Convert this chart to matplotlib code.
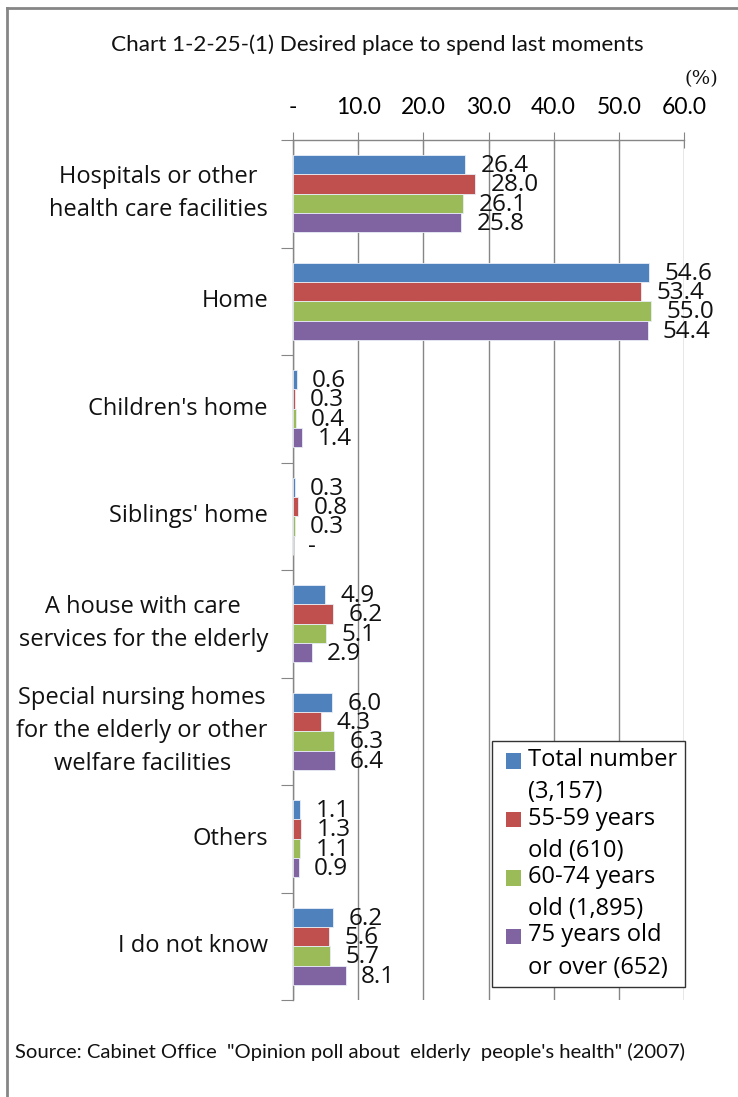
import numpy as np
import matplotlib
matplotlib.use('Agg')
import matplotlib.pyplot as plt
from matplotlib.patches import Rectangle
from matplotlib.lines import Line2D
from matplotlib.legend_handler import HandlerPatch

# ---- data (percent) ----
categories = ["Hospitals or other\nhealth care facilities", "Home", "Children's home",
              "Siblings' home", "A house with care\nservices for the elderly",
              "Special nursing homes\nfor the elderly or other\nwelfare facilities",
              "Others", "I do not know"]
series_names = ["Total number\n(3,157)", "55-59 years\nold (610)",
                "60-74 years\nold (1,895)", "75 years old\nor over (652)"]
total = [26.4, 54.6, 0.6, 0.3, 4.9, 6.0, 1.1, 6.2]
age_55_59 = [28.0, 53.4, 0.3, 0.8, 6.2, 4.3, 1.3, 5.6]
age_60_74 = [26.1, 55.0, 0.4, 0.3, 5.1, 6.3, 1.1, 5.7]
age_75_over = [25.8, 54.4, 1.4, np.nan, 2.9, 6.4, 0.9, 8.1]
xticks = [0, 10, 20, 30, 40, 50, 60]
xticklabels = ["-", "10.0", "20.0", "30.0", "40.0", "50.0", "60.0"]

colors = ["#4F81BD", "#C0504D", "#9BBB59", "#8064A2"]
grey = "#868686"
W, H = 738, 1097

fig = plt.figure(figsize=(W / 100, H / 100), dpi=100)
ax = fig.add_axes([293 / W, 1 - 1000 / H, (684 - 293) / W, (1000 - 140) / H])

# frame around the whole chart
fig.add_artist(Line2D([7 / W, 7 / W], [0, 1 - 8 / H], color=grey, lw=2, transform=fig.transFigure))
fig.add_artist(Line2D([7 / W, 1], [1 - 8 / H, 1 - 8 / H], color=grey, lw=2, transform=fig.transFigure))

bar_h = 0.18
data = [total, age_55_59, age_60_74, age_75_over]
for k, vals in enumerate(data):
	vals = np.asarray(vals, dtype=float)
	ypos = np.arange(len(categories)) + 0.5 + (k - 1.5) * bar_h
	ax.barh(ypos, np.nan_to_num(vals), height=bar_h, color=colors[k],
	        edgecolor="#e8eef7", linewidth=0.6, zorder=3)
	for y, v in zip(ypos, vals):
		txt = "-" if np.isnan(v) else "%.1f" % v
		ax.annotate(txt, xy=(0 if np.isnan(v) else v, y), xytext=(11, -1),
		            textcoords="offset points", ha="left", va="center",
		            fontsize=17.5, family="Open Sans", color="#111111", zorder=4)

ax.set_xlim(0, 60)
ax.set_ylim(len(categories), 0)
ax.xaxis.tick_top()
ax.set_xticks(xticks)
ax.set_xticklabels(xticklabels, fontsize=16.5, family="Lato")
ax.set_yticks(np.arange(len(categories) + 1))
ax.set_yticklabels([])
ax.tick_params(axis="x", direction="inout", length=12, color=grey, pad=10)
ax.tick_params(axis="y", direction="out", length=9, color=grey)
ax.grid(axis="x", color=grey, lw=1, zorder=0)
for s in ["right", "bottom"]:
	ax.spines[s].set_visible(False)
for s in ["left", "top"]:
	ax.spines[s].set_color(grey)
	ax.spines[s].set_linewidth(1)

for i, c in enumerate(categories):
	ax.annotate(c, xy=(0, i + 0.5), xycoords=("axes fraction", "data"),
	            xytext=(-18, 0), textcoords="offset points", ha="right", va="center",
	            multialignment="center", fontsize=17, family="Open Sans",
	            linespacing=1.5, color="#111111")

# legend swatch: small square on the first line of each two-line label
class FirstLineHandler(HandlerPatch):
	def create_artists(self, legend, orig_handle, xdescent, ydescent, width, height, fontsize, trans):
		side = 0.64 * fontsize
		p = Rectangle((-xdescent + width - side, -ydescent + 0.68 * fontsize), side, side,
		              facecolor=orig_handle.get_facecolor(), edgecolor="none", transform=trans)
		return [p]

handles = [Rectangle((0, 0), 1, 1, facecolor=c) for c in colors]
leg = ax.legend(handles, series_names, loc="upper left", bbox_to_anchor=(492 / W, 1 - 741 / H),
                bbox_transform=fig.transFigure, prop={"family": "Open Sans", "size": 17},
                frameon=True, fancybox=False, edgecolor="#333333", framealpha=1,
                handlelength=0.94, handleheight=0.64, handletextpad=0.3, labelspacing=0.1,
                borderpad=0.3, borderaxespad=0,
                handler_map={Rectangle: FirstLineHandler()})
for t in leg.get_texts():
	t.set_linespacing(1.45)
leg.get_frame().set_linewidth(1)
leg.set_zorder(5)

fig.text(377 / W, 1 - 45 / H, "Chart 1-2-25-(1) Desired place to spend last moments",
         ha="center", va="center", fontsize=16.2, family="Lato", color="#111111")
fig.text(701 / W, 1 - 79 / H, "(%)", ha="center", va="center", fontsize=14,
         family="DejaVu Serif", color="#111111")
fig.text(15 / W, 1 - 1052 / H,
         "Source: Cabinet Office  \"Opinion poll about  elderly  people's health\" (2007)",
         ha="left", va="center", fontsize=14.6, family="Lato", color="#111111")

fig.savefig("out.png", dpi=100)
